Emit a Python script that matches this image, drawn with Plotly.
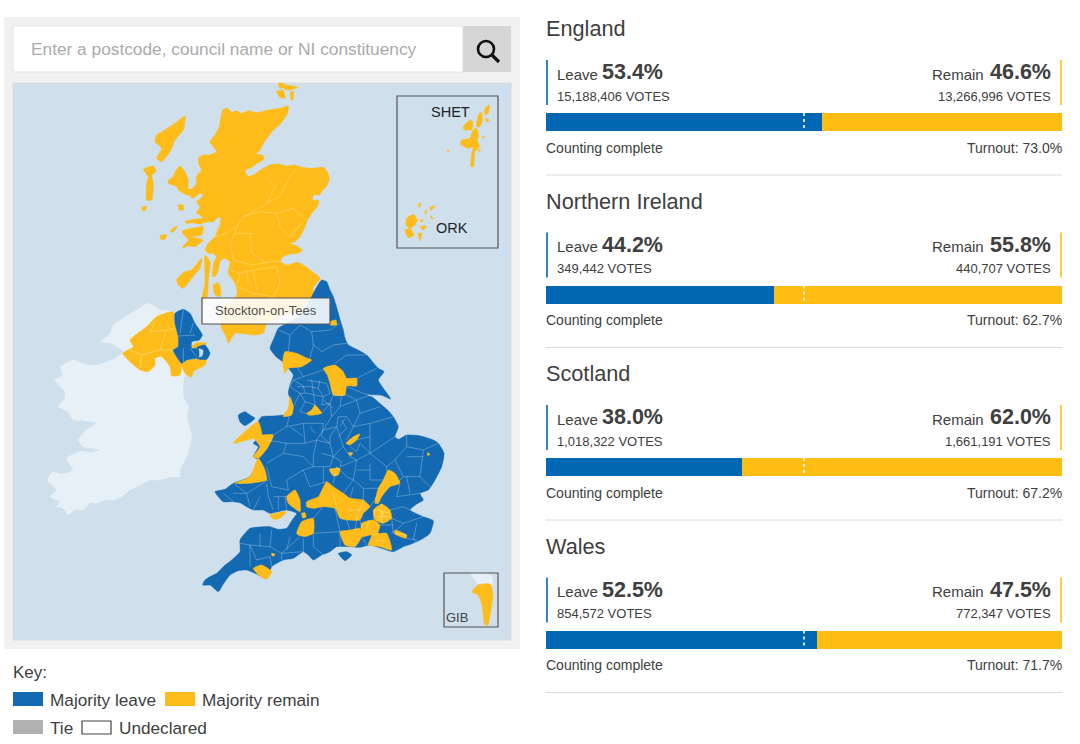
import plotly.graph_objects as go

# ---------- results data ----------
regions = ["England", "Northern Ireland", "Scotland", "Wales"]
leave_pct = [53.4, 44.2, 38.0, 52.5]
remain_pct = [46.6, 55.8, 62.0, 47.5]
leave_votes = ["15,188,406", "349,442", "1,018,322", "854,572"]
remain_votes = ["13,266,996", "440,707", "1,661,191", "772,347"]
turnout = ["73.0%", "62.7%", "67.2%", "71.7%"]

BLUE, YEL = "#0067b3", "#ffbc12"
MBLUE, MYEL = "#1369b2", "#fdbc19"
TXT = "#404040"
FONT = "Liberation Sans, Arial, sans-serif"

# ---------- map outlines ----------
def zs(ox, oy, polys):
    return [[(ox + x / 3, oy + y / 3) for x, y in p] for p in polys]

scot_land = [
 [(310,88),(322,85),(335,97),(350,92),(365,100),(385,92),(410,98),(435,92),(460,88),(480,85),(505,78),(503,100),(490,120),(478,135),(460,150),(445,170),(430,190),(420,210),(408,222),(428,226),(432,238),(412,250),(395,262),(375,272),(385,290),(405,282),(430,265),(450,255),(475,252),(500,258),(525,255),(545,262),(575,265),(610,262),(622,275),(628,295),(620,318),(605,335),(598,345),(580,345),(578,360),(597,362),(592,380),(575,400),(563,420),(555,440),(540,470),(525,485),(510,490),(530,498),(547,510),(535,520),(510,522),(490,530),(480,545),(505,555),(530,547),(550,555),(570,570),(600,595),(578,625),(585,650),(510,700),(440,730),(430,760),(400,765),(345,760),(325,790),(318,770),(305,745),(300,690),(345,655),(352,640),(345,610),(325,580),(330,545),(312,535),(300,545),(295,570),(285,590),(278,590),(282,545),(290,530),(278,520),(265,520),(255,510),(265,490),(285,470),(292,450),(300,435),(302,410),(290,415),(280,425),(262,425),(240,432),(218,428),(200,430),(195,425),(222,418),(250,415),(240,405),(230,400),(240,380),(230,365),(242,355),(250,345),(240,340),(225,352),(215,355),(210,340),(205,330),(218,325),(230,310),(228,295),(232,285),(245,270),(240,260),(235,245),(238,230),(250,225),(268,225),(290,215),(280,200),(270,185),(285,165),(298,140),(302,115)],
 [(255,525),(270,545),(265,600),(262,650),(250,680),(245,660),(255,610)],
 [(170,600),(182,585),(195,575),(215,570),(245,535),(240,565),(215,595),(190,625),(175,615)],
 [(280,615),(295,608),(303,630),(300,650),(285,645)],
 [(185,455),(200,448),(215,445),(250,440),(245,465),(215,470),(250,480),(225,500),(205,497),(185,505),(205,480)],
 [(145,300),(160,290),(165,275),(180,258),(195,275),(205,300),(205,330),(220,345),(200,345),(175,330),(170,320),(145,310)],
 [(195,108),(190,150),(165,180),(155,205),(150,215),(125,245),(110,235),(125,205),(105,185),(110,165),(135,150),(165,130)],
 [(70,268),(100,258),(108,275),(95,285),(100,310),(95,360),(80,360),(80,310),(85,290)],
 [(66,382),(80,378),(76,392),(67,392)],
 [(120,468),(140,464),(135,478),(122,478)],
 [(152,452),(170,438),(168,448),(155,458)],
 [(175,375),(190,375),(190,390),(178,390)],
 [(475,10),(490,10),(495,20),(480,25)],
 [(470,35),(490,30),(495,55),(480,52)],
 [(490,15),(535,22),(510,30),(495,28)],
 [(512,35),(520,35),(518,62),(512,58)],
]
ireland = [
 [(325,10),(345,20),(362,30),(400,35),(430,50),(445,120),(440,180),(435,225),(430,240),(430,290),(445,320),(440,350),(455,410),(440,470),(420,510),(420,530),(395,530),(360,540),(330,540),(300,555),(270,570),(245,590),(220,600),(200,598),(170,610),(150,608),(130,630),(105,628),(85,645),(70,625),(50,620),(60,605),(30,590),(50,570),(22,540),(40,515),(60,522),(80,520),(100,510),(80,475),(120,455),(155,458),(180,450),(160,445),(130,440),(115,420),(140,390),(170,370),(135,362),(100,360),(85,335),(55,320),(75,295),(75,275),(45,240),(70,225),(60,200),(70,195),(100,180),(125,190),(150,195),(175,195),(200,185),(225,175),(250,155),(215,130),(185,125),(210,100),(220,75),(250,55),(290,30)],
]
ni_yel = [
 [(350,50),(400,35),(405,70),(415,110),(415,140),(400,150),(425,195),(420,225),(395,228),(390,200),(365,170),(345,175),(345,195),(325,215),(300,210),(270,185),(248,160),(280,140),(270,120),(320,80)],
 [(425,190),(440,180),(470,178),(500,175),(495,195),(460,215),(455,232),(435,220)],
 [(455,140),(470,128),(500,130),(490,142),(470,146)],
]
ni_blue = [
 [(405,40),(430,28),(450,40),(465,70),(487,105),(478,120),(455,125),(455,145),(475,145),(476,172),(440,180),(425,190),(400,150),(415,140),(415,110),(405,70)],
 [(470,142),(495,135),(510,160),(500,178),(470,176),(488,168),(490,150)],
]
eng_blue = [
 [(378,25),(395,0),(410,5),(420,30),(430,50),(438,75),(445,100),(452,125),(460,150),(465,175),(475,195),(500,208),(530,225),(550,248),(565,265),(582,275),(565,300),(580,325),(602,357),(575,346),(530,345),(548,352),(575,375),(595,392),(610,410),(625,440),(615,470),(625,478),(650,465),(680,466),(700,470),(730,480),(745,490),(762,520),(755,560),(735,600),(715,630),(690,640),(700,660),(680,672),(660,690),(700,710),(730,722),(720,760),(700,775),(670,790),(640,800),(610,815),(575,805),(540,795),(510,802),(480,800),(440,800),(420,815),(395,825),(370,840),(355,825),(340,815),(310,835),(280,840),(245,860),(230,895),(195,880),(170,870),(145,872),(120,885),(100,912),(85,935),(60,915),(38,915),(45,900),(60,890),(80,880),(100,860),(125,840),(150,815),(150,780),(165,760),(180,745),(240,740),(265,748),(290,745),(305,722),(320,700),(290,690),(240,700),(220,690),(190,690),(170,680),(150,668),(130,665),(100,665),(85,650),(75,635),(105,628),(130,610),(180,590),(205,540),(190,530),(205,500),(190,490),(215,465),(205,425),(215,410),(250,408),(285,405),(305,405),(310,380),(295,340),(300,315),(310,285),(295,265),(278,245),(258,230),(240,205),(252,175),(265,145),(290,130),(335,105)],
 [(145,405),(165,395),(180,405),(195,415),(165,437),(150,425)],
 [(445,820),(470,815),(485,825),(465,842)],
]
eng_yel = [
 [(285,215),(320,220),(345,232),(365,240),(335,260),(295,265),(285,280),(278,245)],
 [(400,265),(435,255),(460,275),(470,295),(500,295),(500,318),(470,318),(465,345),(430,345),(420,310),(412,285)],
 [(300,350),(310,380),(305,405),(280,410),(295,385)],
 [(350,400),(365,390),(375,375),(395,400),(375,405),(355,405)],
 [(130,490),(170,450),(205,425),(215,465),(190,475)],
 [(190,470),(250,465),(235,500),(205,535),(190,530),(210,500)],
 [(135,610),(180,590),(205,535),(225,570),(230,600),(180,610)],
 [(290,650),(315,630),(330,660),(330,695),(295,670)],
 [(240,705),(290,695),(270,715),(250,718)],
 [(320,760),(335,725),(370,715),(370,760),(345,770),(325,765)],
 [(335,700),(345,698),(348,712),(338,714)],
 [(350,665),(385,650),(410,605),(430,620),(460,640),(480,655),(520,660),(540,680),(520,700),(510,720),(470,720),(450,715),(435,685),(400,680),(370,685),(350,680)],
 [(555,670),(565,625),(580,600),(595,570),(615,580),(630,610),(600,620),(575,650),(565,670)],
 [(550,690),(575,672),(600,690),(605,715),(580,730),(555,720)],
 [(515,730),(550,720),(570,735),(565,760),(590,760),(605,810),(570,800),(535,795),(545,765),(515,770)],
 [(450,755),(480,750),(510,745),(515,770),(495,800),(465,795)],
 [(615,750),(650,765),(648,775),(615,762)],
 [(190,865),(215,855),(245,875),(230,898),(205,885)],
 [(245,820),(255,822),(252,828),(246,828)],
 [(468,490),(490,470),(510,462),(500,480),(480,495)],
 [(475,518),(488,518),(482,528)],
 [(418,568),(450,565),(445,585),(430,588)],
 [(712,518),(720,522),(714,528)],
 [(420,125),(438,120),(440,135),(420,135)],
]
shet = [
 [(285,70),(298,60),(295,85),(285,90)],
 [(265,90),(275,82),(277,105),(270,125),(260,125)],
 [(250,135),(260,130),(265,150),(262,165),(268,185),(255,200),(250,245),(243,245),(245,205),(250,185),(235,190),(212,178),(215,165),(240,160),(245,145)],
 [(220,125),(240,105),(248,110),(245,135),(232,135),(222,135)],
 [(170,195),(177,195),(175,201)],
 [(285,100),(298,105),(290,110)],
 [(265,192),(272,195),(267,200)],
 [(277,153),(284,155),(278,160)],
 [(50,400),(70,388),(82,405),(75,420),(60,430),(48,420)],
 [(45,435),(60,430),(72,450),(55,458)],
 [(85,355),(93,355),(88,368)],
 [(105,378),(110,375),(107,390)],
 [(118,368),(135,362),(125,375)],
 [(122,392),(130,402),(122,400)],
 [(90,425),(110,423),(100,435)],
 [(85,445),(95,445),(90,468)],
 [(90,405),(100,405),(95,412)],
]
gib_yel = [[(478,585),(490,584),(493,595),(491,610),(488,625),(485,625),(482,605),(478,595),(472,592)]]
gib_pale = [[(471,573),(491,575),(493,584),(479,585)]]

scot_lines = [
 [(440,290),(465,320),(440,370),(480,350),(510,290),(530,265)],
 [(435,375),(370,410),(350,440),(345,460),(400,460)],
 [(370,410),(420,395),(470,400),(480,440),(510,470),(545,430)],
 [(470,400),(520,385),(560,420)],
 [(345,460),(330,490),(340,540),(400,555),(450,545),(480,545)],
 [(390,460),(395,520),(440,550)],
 [(330,570),(360,580),(400,570),(470,560),(480,610),(460,650)],
 [(350,620),(400,640),(460,650)],
 [(300,440),(285,470),(320,460),(345,440)],
 [(400,570),(410,630)],
 [(360,580),(350,620)],[(380,575),(385,610)],
]
ni_lines = [
 [(345,65),(330,95),(380,90),(405,85)],[(380,90),(360,150),(305,165),(270,150)],[(360,150),(400,150)],
 [(305,165),(300,205)],[(415,108),(465,105)],[(430,30),(420,100)],[(450,100),(460,70)],
 [(430,145),(430,190)],[(450,145),(470,170)],
]
eng_lines = [
 [(265,150),(300,165),(330,135),(365,155),(370,195),(395,215),(430,195),(470,190)],
 [(300,165),(295,215)],[(365,155),(420,150),(450,130)],[(370,195),(360,235)],
 [(435,250),(470,225),(530,225)],[(500,295),(560,265)],[(470,320),(520,340),(540,345)],
 [(320,260),(340,290),(310,300),(300,320),(330,340),(310,380)],[(340,290),(400,270)],
 [(350,300),(410,310),(420,340),(400,350),(350,340),(330,340)],[(365,300),(370,340),(375,375)],
 [(395,400),(420,370),(430,345),(470,345),(500,360),(540,345)],[(500,360),(510,400),(570,380)],
 [(510,400),(490,440),(540,430),(610,410)],[(490,440),(470,480)],
 [(420,370),(425,410),(400,450),(440,440),(445,410),(470,410),(490,440)],
 [(300,400),(290,440),(250,465)],[(290,440),(340,430),(400,430)],
 [(340,430),(345,490),(380,480),(400,450)],[(345,490),(290,490),(280,520),(230,550)],
 [(280,520),(340,530),(370,560),(420,560)],[(380,480),(370,530),(370,560)],
 [(420,490),(430,530),(420,560)],[(420,490),(380,480)],[(440,440),(460,500),(430,530)],
 [(510,490),(540,520),(500,540),(450,560)],[(540,430),(540,520),(615,470)],[(540,520),(590,560)],
 [(615,540),(650,500),(650,465)],[(615,540),(640,590),(620,610)],[(650,500),(700,510),(745,490)],
 [(700,510),(690,590),(720,620)],[(640,590),(690,590)],[(500,540),(490,600),(460,640)],
 [(290,600),(295,630),(245,620),(230,560)],[(290,600),(340,570),(370,560)],[(340,570),(360,620),(410,605)],
 [(490,600),(520,625),(565,625)],[(520,625),(520,660)],[(630,610),(620,650),(690,640)],
 [(600,690),(640,680),(660,690)],[(605,715),(640,730),(700,710)],[(640,730),(620,750)],
 [(650,775),(680,780),(670,790)],[(130,610),(170,640),(235,600)],[(170,640),(180,680)],
 [(230,610),(235,650),(250,690)],[(250,650),(290,650)],[(265,650),(265,690)],[(285,650),(290,690)],
 [(370,715),(400,680)],[(370,760),(370,800),(400,825)],[(435,685),(450,755),(450,800)],[(370,760),(450,755)],
 [(340,815),(340,775)],[(245,750),(240,800),(275,820),(275,840)],[(240,800),(180,795),(150,790)],[(180,795),(180,860)],
 [(180,795),(200,840),(240,830),(245,860)],[(330,770),(275,820),(340,815)],[(515,770),(530,795)],
 [(495,750),(500,720)],[(535,720),(530,745)],[(605,760),(615,750)],
 [(555,690),(600,700)],[(575,672),(575,730)],[(560,710),(600,710)],[(562,680),(592,722)],[(590,680),(565,722)],
 [(450,440),(465,415)],[(400,360),(430,385)],[(540,470),(500,480)],[(320,320),(360,320)],
 # denser districts of the north-west, Yorkshire and the Midlands
 [(310,300),(340,318),(345,340)],[(360,320),(385,325),(400,350)],[(385,325),(390,300)],[(330,340),(345,365),(375,375)],
 [(345,365),(330,395),(350,400)],[(400,350),(395,375),(420,370)],[(455,345),(450,380),(425,410)],[(450,380),(500,360)],
 [(400,430),(395,470),(420,490)],[(360,440),(375,460)],[(440,440),(420,470),(420,490)],[(455,420),(470,445),(445,470)],
 [(480,500),(500,515),(510,490)],[(460,500),(480,530),(500,540)],[(430,530),(455,545),(450,560)],[(395,520),(430,530)],
 [(400,560),(400,610)],[(440,560),(470,590),(490,600)],[(440,560),(430,610)],[(540,550),(540,600),(580,600)],[(500,570),(540,570)],
 [(590,560),(615,540)],[(590,560),(590,575)],[(650,590),(660,640)],[(650,530),(700,530)],
 [(480,655),(490,620)],[(520,660),(500,720)],[(540,680),(560,650)],[(470,690),(520,690)],[(430,640),(440,680)],
 [(510,720),(515,745)],[(550,720),(555,690)],[(570,735),(610,735)],[(605,715),(610,760),(650,765)],[(565,760),(545,765)],
 [(480,750),(470,720)],[(560,780),(590,785)],[(680,730),(670,780)],[(230,480),(290,490)],[(300,440),(340,470)],
 [(190,690),(210,650)],[(100,640),(130,665)],[(130,640),(170,640)],[(210,760),(210,800)],[(300,770),(290,810)],
]

def xy(polys):
    xs, ys = [], []
    for p in polys:
        xs += [a for a, _ in p] + [p[0][0], None]
        ys += [b for _, b in p] + [p[0][1], None]
    return xs, ys

def xyl(lines):
    xs, ys = [], []
    for p in lines:
        xs += [a for a, _ in p] + [None]
        ys += [b for _, b in p] + [None]
    return xs, ys

fig = go.Figure()

def area(polys, color):
    xs, ys = xy(polys)
    fig.add_trace(go.Scatter(x=xs, y=ys, mode="lines", fill="toself", fillcolor=color,
                             line=dict(width=0.5, color=color, shape="spline", smoothing=0.5),
                             hoverinfo="skip", showlegend=False))

def rule(lines, color, w=0.7):
    xs, ys = xyl(lines)
    fig.add_trace(go.Scatter(x=xs, y=ys, mode="lines", line=dict(width=w, color=color),
                             hoverinfo="skip", showlegend=False))

Z1, Z2, Z3, Z4 = (120, 80), (40, 300), (190, 280), (390, 85)
area(zs(*Z2, ireland), "#e7f0f7")
area(zs(*Z1, scot_land), MYEL)
area(zs(*Z2, ni_yel), MYEL)
area(zs(*Z2, ni_blue), MBLUE)
area(zs(*Z3, eng_blue), MBLUE)
area(zs(*Z3, eng_yel), MYEL)
area(zs(*Z4, shet), MYEL)
area(gib_pale, "#e7f0f7")
area(gib_yel, MYEL)
rule(zs(*Z1, scot_lines), "rgba(255,255,255,0.35)")
rule(zs(*Z2, ni_lines), "rgba(255,255,255,0.4)")
rule(zs(*Z3, eng_lines), "rgba(255,255,255,0.45)", 0.6)

# result bars, through their own 0-100 axis
fig.add_trace(go.Bar(y=regions, x=leave_pct, orientation="h", marker=dict(color=BLUE, line_width=0),
                     xaxis="x2", yaxis="y2", hoverinfo="skip", showlegend=False))
fig.add_trace(go.Bar(y=regions, x=remain_pct, orientation="h", marker=dict(color=YEL, line_width=0),
                     xaxis="x2", yaxis="y2", hoverinfo="skip", showlegend=False))

shapes, ann = [], []
def rect(x0, y0, x1, y1, fill, line=None, w=1, layer="below"):
    shapes.append(dict(type="rect", xref="x", yref="y", x0=x0, y0=y0, x1=x1, y1=y1, fillcolor=fill,
                       line=dict(color=line or fill, width=w if line else 0), layer=layer))
def seg(x0, y0, x1, y1, color, w=1, dash=None, xref="x"):
    shapes.append(dict(type="line", xref=xref, yref="y", x0=x0, y0=y0, x1=x1, y1=y1,
                       line=dict(color=color, width=w, dash=dash or "solid"), layer="above"))
def label(x, y, s, size, color=TXT, anchor="left", bold=False):
    ann.append(dict(xref="x", yref="y", x=x, y=y, text=f"<b>{s}</b>" if bold else s, showarrow=False,
                    xanchor=anchor, yanchor="middle", borderpad=0, borderwidth=0,
                    font=dict(family=FONT, size=size, color=color)))

# left panel
rect(4, 17, 520, 649, "#f1f1f1")
rect(13, 26, 463, 72, "#ffffff", "#e4e4e4")
rect(463, 26, 511, 72, "#d6d6d6")
rect(13, 83, 511, 640, "#cfdfeb", "#dcdcdc")
label(31, 49, "Enter a postcode, council name or NI constituency", 17.3, "#ababab")
shapes.append(dict(type="circle", xref="x", yref="y", x0=478, y0=41, x1=494, y1=57,
                   line=dict(color="#111111", width=2.6), layer="above"))
seg(492, 55, 499, 62, "#111111", 3.2)

rect(397, 96, 498, 248, "rgba(0,0,0,0)", "#555555", 1.2, "above")
rect(444, 573, 498, 627, "rgba(0,0,0,0)", "#555555", 1.2, "above")
label(431, 112, "SHET", 14.5, "#222222")
label(436, 228, "ORK", 14.5, "#222222")
label(446, 617, "GIB", 13, "#444444")

rect(202, 298, 330, 324, "rgba(255,255,255,0.88)", "#555555", 1.2, "above")
label(266, 310.5, "Stockton-on-Tees", 13, "#505050", "center")

# key
label(13, 672, "Key:", 17)
rect(13, 692, 43, 706, MBLUE)
label(50, 699.5, "Majority leave", 17.2)
rect(165, 692, 195, 706, MYEL)
label(202, 699.5, "Majority remain", 17.2)
rect(13, 720, 43, 734, "#b0b0b0")
label(50, 727.5, "Tie", 17.2)
rect(82, 721, 111, 734, "#ffffff", "#444444", 1.2)
label(119, 727.5, "Undeclared", 17.2)

# right panel
STEP = 172.5
for i, r in enumerate(regions):
    o = i * STEP
    label(546, 28.5 + o, r, 21.7)
    seg(547, 60 + o, 547, 105 + o, BLUE, 1.6)
    seg(1061, 60 + o, 1061, 105 + o, YEL, 1.6)
    label(557, 74 + o, "Leave", 15)
    label(602, 72 + o, f"{leave_pct[i]:.1f}%", 21.5, bold=True)
    label(557, 96 + o, f"{leave_votes[i]} VOTES", 13)
    label(1051, 72 + o, f"{remain_pct[i]:.1f}%", 21.5, anchor="right", bold=True)
    label(984, 74 + o, "Remain", 15, anchor="right")
    label(1051, 96 + o, f"{remain_votes[i]} VOTES", 13, anchor="right")
    seg(50, 113 + o, 50, 131 + o, "#ffffff", 1.6, "dot", xref="x2")
    label(546, 147.5 + o, "Counting complete", 14)
    label(1062, 147.5 + o, f"Turnout: {turnout[i]}", 14, anchor="right")
    seg(546, 175 + o, 1062, 175 + o, "#dcdcdc", 1)

W, H = 1080, 744
hidden = dict(visible=False, showgrid=False, zeroline=False, fixedrange=True)
fig.update_layout(
    width=W, height=H, margin=dict(l=0, r=0, t=0, b=0), paper_bgcolor="#ffffff", plot_bgcolor="rgba(0,0,0,0)",
    barmode="stack", bargap=0.896, shapes=shapes, annotations=ann, showlegend=False,
    xaxis=dict(range=[0, W], domain=[0, 1], **hidden),
    yaxis=dict(range=[H, 0], domain=[0, 1], **hidden),
    xaxis2=dict(range=[0, 100], domain=[546 / W, 1062 / W], anchor="y2", **hidden),
    yaxis2=dict(type="category", categoryorder="array", categoryarray=regions, range=[3.5, -0.5],
                domain=[1 - 726.1 / H, 1 - 35.9 / H], anchor="x2", **hidden),
)
fig.write_html("out.html", config={"displayModeBar": False, "responsive": False},
               post_script="document.body.style.margin='0';document.body.style.overflow='hidden';")
